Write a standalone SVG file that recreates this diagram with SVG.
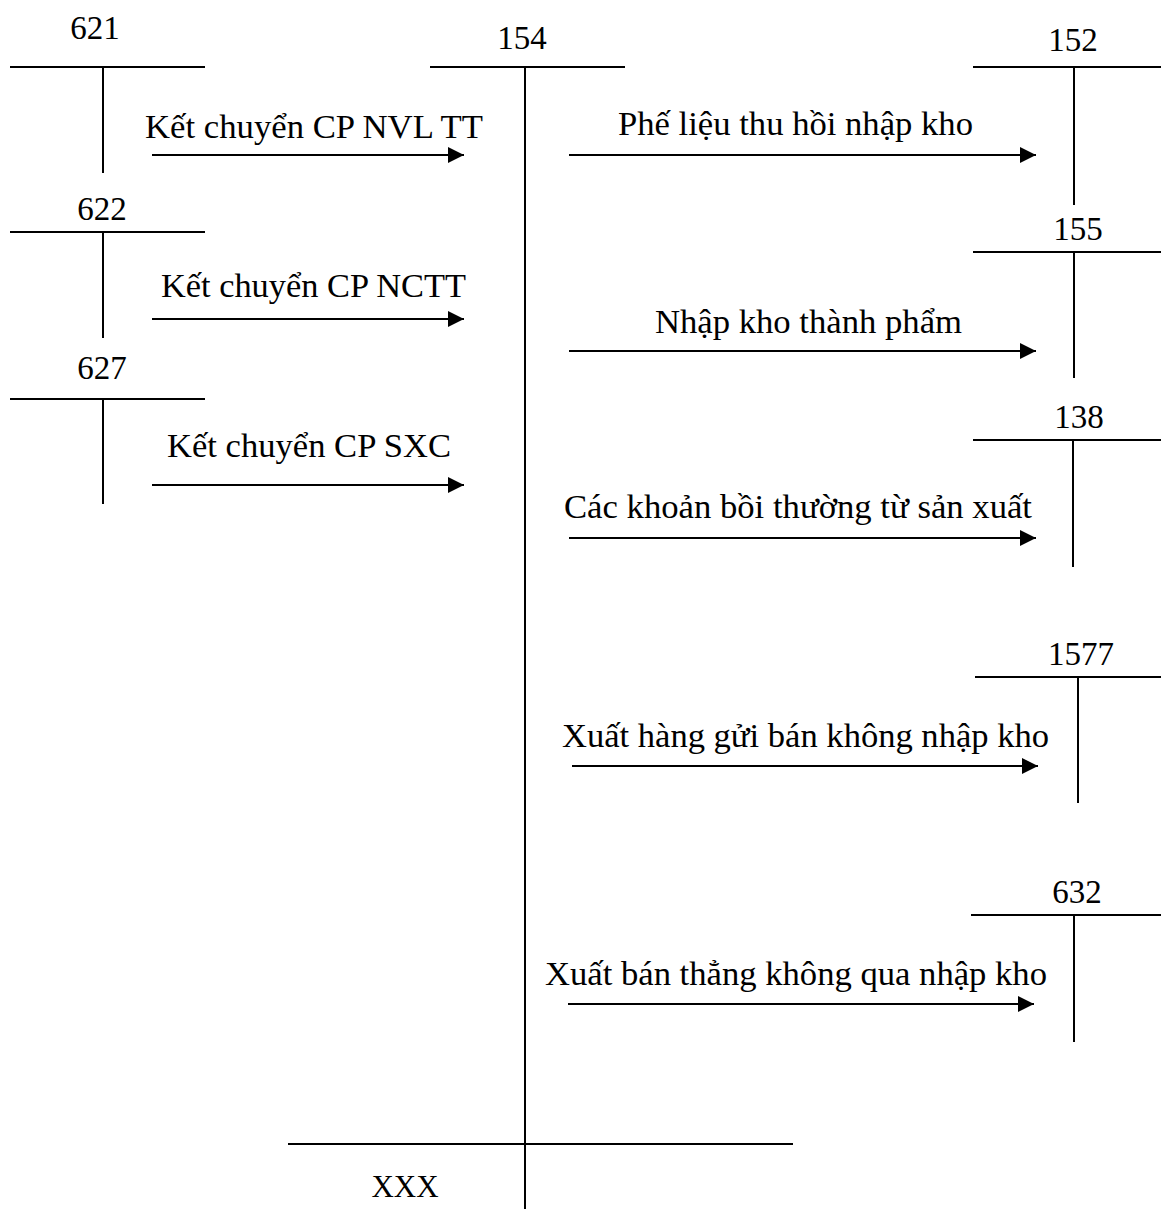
<svg xmlns="http://www.w3.org/2000/svg" width="1161" height="1209" viewBox="0 0 1161 1209">
<style>
.ln{stroke:#000;stroke-width:2;fill:none}
.ar{stroke:#000;stroke-width:2;fill:none;marker-end:url(#ah)}
.acc{font-family:"Liberation Serif","Times New Roman",serif;font-size:33px;fill:#000;text-anchor:middle}
.lbl{font-family:"Liberation Serif","Times New Roman",serif;font-size:34px;fill:#000}
</style>
<defs>
<marker id="ah" markerUnits="userSpaceOnUse" markerWidth="16" markerHeight="16" refX="16" refY="8" orient="auto">
<path d="M0,0 L16,8 L0,16 Z" fill="#000"/>
</marker>
</defs>
<rect width="1161" height="1209" fill="#fff"/>
<g id="acc-621">
<text class="acc" x="95" y="39">621</text>
<line class="ln" x1="10" y1="67" x2="205" y2="67"/>
<line class="ln" x1="103" y1="67" x2="103" y2="173"/>
</g>
<g id="acc-622">
<text class="acc" x="102" y="220">622</text>
<line class="ln" x1="10" y1="232" x2="205" y2="232"/>
<line class="ln" x1="103" y1="232" x2="103" y2="338"/>
</g>
<g id="acc-627">
<text class="acc" x="102" y="379">627</text>
<line class="ln" x1="10" y1="399" x2="205" y2="399"/>
<line class="ln" x1="103" y1="399" x2="103" y2="504"/>
</g>
<g id="acc-154">
<text class="acc" x="522" y="49">154</text>
<line class="ln" x1="430" y1="67" x2="625" y2="67"/>
<line class="ln" x1="525" y1="67" x2="525" y2="1209"/>
</g>
<g id="acc-xxx">
<line class="ln" x1="288" y1="1144" x2="793" y2="1144"/>
<text class="acc" x="405" y="1197" style="font-size:31px">XXX</text>
</g>
<g id="acc-152">
<text class="acc" x="1073" y="51">152</text>
<line class="ln" x1="973" y1="67" x2="1161" y2="67"/>
<line class="ln" x1="1074" y1="67" x2="1074" y2="205"/>
</g>
<g id="acc-155">
<text class="acc" x="1078" y="240">155</text>
<line class="ln" x1="973" y1="252" x2="1161" y2="252"/>
<line class="ln" x1="1074" y1="252" x2="1074" y2="378"/>
</g>
<g id="acc-138">
<text class="acc" x="1079" y="428">138</text>
<line class="ln" x1="973" y1="440" x2="1161" y2="440"/>
<line class="ln" x1="1073" y1="440" x2="1073" y2="567"/>
</g>
<g id="acc-1577">
<text class="acc" x="1081" y="665">1577</text>
<line class="ln" x1="975" y1="677" x2="1161" y2="677"/>
<line class="ln" x1="1078" y1="677" x2="1078" y2="803"/>
</g>
<g id="acc-632">
<text class="acc" x="1077" y="903">632</text>
<line class="ln" x1="971" y1="915" x2="1161" y2="915"/>
<line class="ln" x1="1074" y1="915" x2="1074" y2="1042"/>
</g>
<g id="connectors">
<line class="ar" x1="152" y1="155" x2="464" y2="155"/>
<line class="ar" x1="152" y1="319" x2="464" y2="319"/>
<line class="ar" x1="152" y1="485" x2="464" y2="485"/>
<line class="ar" x1="569" y1="155" x2="1036" y2="155"/>
<line class="ar" x1="569" y1="351" x2="1036" y2="351"/>
<line class="ar" x1="569" y1="538" x2="1036" y2="538"/>
<line class="ar" x1="572" y1="766" x2="1038" y2="766"/>
<line class="ar" x1="568" y1="1004" x2="1034" y2="1004"/>
</g>
<g id="labels">
<text class="lbl" x="145" y="138" textLength="338" lengthAdjust="spacingAndGlyphs">Kết chuyển CP NVL TT</text>
<text class="lbl" x="161" y="297" textLength="305" lengthAdjust="spacingAndGlyphs">Kết chuyển CP NCTT</text>
<text class="lbl" x="167" y="457" textLength="284" lengthAdjust="spacingAndGlyphs">Kết chuyển CP SXC</text>
<text class="lbl" x="618" y="135" textLength="355" lengthAdjust="spacingAndGlyphs">Phế liệu thu hồi nhập kho</text>
<text class="lbl" x="655" y="333" textLength="307" lengthAdjust="spacingAndGlyphs">Nhập kho thành phẩm</text>
<text class="lbl" x="564" y="518" textLength="468" lengthAdjust="spacingAndGlyphs">Các khoản bồi thường từ sản xuất</text>
<text class="lbl" x="562" y="747" textLength="487" lengthAdjust="spacingAndGlyphs">Xuất hàng gửi bán không nhập kho</text>
<text class="lbl" x="545" y="985" textLength="502" lengthAdjust="spacingAndGlyphs">Xuất bán thẳng không qua nhập kho</text>
</g>
</svg>
